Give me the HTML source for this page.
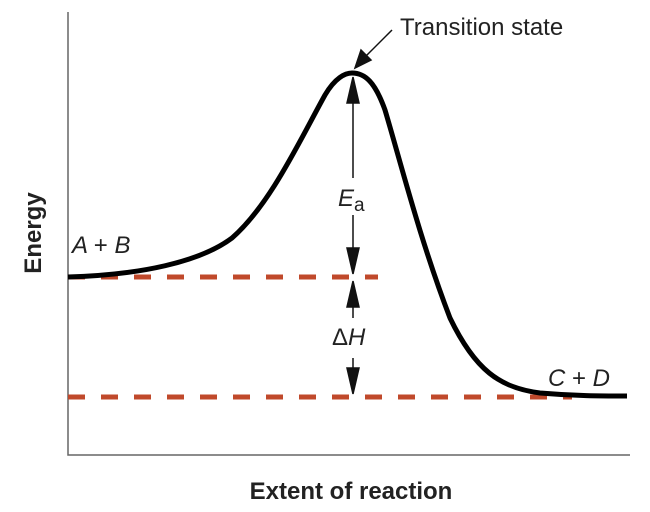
<!DOCTYPE html>
<html><head><style>body{margin:0;background:#fff}svg{display:block}text{font-family:"Liberation Sans",sans-serif;fill:#222}</style></head>
<body>
<svg width="650" height="512" viewBox="0 0 650 512" xmlns="http://www.w3.org/2000/svg">
<path d="M68,12 V455 H630" fill="none" stroke="#666" stroke-width="1.5"/>
<line x1="68" y1="277" x2="378" y2="277" stroke="#c0492b" stroke-width="5" stroke-dasharray="17 16"/>
<line x1="68" y1="397" x2="572" y2="397" stroke="#c0492b" stroke-width="5" stroke-dasharray="17 16"/>
<path d="M68,277 C140,275 200,262 232,238 C270,205 300,140 325,95 C335,78 345,73 352,73 C365,73 375,82 385,110 C400,160 420,240 450,318 C475,370 500,388 540,393 C575,396 600,396 627,396" fill="none" stroke="#000" stroke-width="5"/>
<g stroke="#111" stroke-width="1.5" fill="#111">
<line x1="353" y1="178" x2="353" y2="82"/><path d="M353,77 l-6,26 h12 z"/>
<line x1="353" y1="215" x2="353" y2="270"/><path d="M353,274 l-6,-26 h12 z"/>
<line x1="353" y1="318" x2="353" y2="286"/><path d="M353,281 l-6,26 h12 z"/>
<line x1="353" y1="358" x2="353" y2="390"/><path d="M353,394 l-6,-26 h12 z"/>
<line x1="392" y1="30" x2="362" y2="60"/><path d="M355,68 l6,-18 l10,10 z"/>
</g>
<text x="400" y="35" font-size="24">Transition state</text>
<text x="338" y="206" font-size="24" font-style="italic">E<tspan font-style="normal" font-size="19" dy="5">a</tspan></text>
<text x="332" y="345" font-size="24">Δ<tspan font-style="italic">H</tspan></text>
<text x="72" y="253" font-size="24" font-style="italic">A <tspan font-style="normal">+</tspan> B</text>
<text x="548" y="386" font-size="24" font-style="italic">C <tspan font-style="normal">+</tspan> D</text>
<text x="351" y="499" font-size="24" font-weight="bold" text-anchor="middle">Extent of reaction</text>
<text transform="translate(41,233) rotate(-90)" font-size="24" font-weight="bold" text-anchor="middle">Energy</text>
</svg>
</body></html>
